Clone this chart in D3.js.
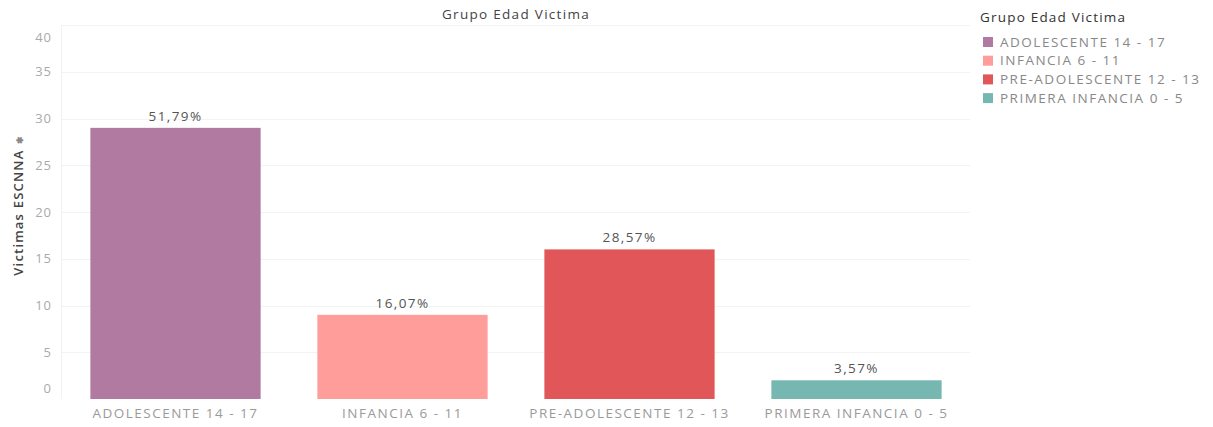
<!DOCTYPE html>
<html>
<head>
<meta charset="utf-8">
<script src="https://cdn.jsdelivr.net/npm/d3@7"></script>
<style>
  html, body { margin: 0; padding: 0; background: #fff; }
  svg { display: block; }
  text { font-family: "Open Sans", "Noto Sans", sans-serif; }
</style>
</head>
<body>
<svg id="chart" width="1213" height="427"></svg>
<script>
const categories = ["ADOLESCENTE 14 - 17", "INFANCIA 6 - 11", "PRE-ADOLESCENTE 12 - 13", "PRIMERA INFANCIA 0 - 5"];
const values = [29, 9, 16, 2];
const percentLabels = ["51,79%", "16,07%", "28,57%", "3,57%"];
const colors = ["#b07aa1", "#ff9d9a", "#e15759", "#76b7b2"];
const yTicks = [0, 5, 10, 15, 20, 25, 30, 35, 40];
const chartTitle = "Grupo Edad Victima";
const yTitle = "Victimas ESCNNA";

const svg = d3.select("#chart");

const x = d3.scaleBand().domain(categories).range([62, 970]).paddingInner(0.25).paddingOuter(0.125);
const y = d3.scaleLinear().domain([0, 40]).range([399, 25]);
const color = d3.scaleOrdinal().domain(categories).range(colors);

// gridlines
svg.append("g").selectAll("line").data(yTicks.filter(d => d > 0)).join("line")
  .attr("x1", 62).attr("x2", 970)
  .attr("y1", d => Math.round(y(d)) + 0.5).attr("y2", d => Math.round(y(d)) + 0.5)
  .attr("stroke", "#f3f3f3").attr("stroke-width", 1);

// y axis line (faint)
svg.append("line").attr("x1", 61.5).attr("x2", 61.5).attr("y1", 25).attr("y2", 399)
  .attr("stroke", "#f2f2f2");

// y tick labels
svg.append("g").selectAll("text").data(yTicks).join("text")
  .attr("x", 52)
  .attr("y", d => d === 0 ? y(d) - 11 : (d === 40 ? y(d) + 12 : y(d)))
  .attr("dy", "0.35em")
  .attr("text-anchor", "end")
  .attr("font-size", 13)
  .attr("letter-spacing", "1px")
  .attr("fill", "#aaaaaa")
  .text(d => d);

// y title
const yt = svg.append("text")
  .attr("transform", "translate(23,205) rotate(-90)")
  .attr("text-anchor", "middle")
  .attr("font-size", 13)
  .attr("font-weight", "600")
  .attr("letter-spacing", "1.2px")
  .attr("fill", "#444");
yt.append("tspan").text(yTitle);
yt.append("tspan").attr("dx", 6).attr("font-size", 9).attr("fill", "#888").text("✱");

// bars
svg.append("g").selectAll("rect").data(categories).join("rect")
  .attr("x", d => x(d))
  .attr("width", x.bandwidth())
  .attr("y", (d, i) => y(values[i]))
  .attr("height", (d, i) => y(0) - y(values[i]))
  .attr("fill", d => color(d));

// value labels
svg.append("g").selectAll("text").data(categories).join("text")
  .attr("x", d => x(d) + x.bandwidth() / 2)
  .attr("y", (d, i) => y(values[i]) - 7)
  .attr("text-anchor", "middle")
  .attr("font-size", 13.5)
  .attr("letter-spacing", "1.4px")
  .attr("fill", "#555")
  .text((d, i) => percentLabels[i]);

// x axis labels
svg.append("g").selectAll("text").data(categories).join("text")
  .attr("x", d => x(d) + x.bandwidth() / 2)
  .attr("y", 418)
  .attr("text-anchor", "middle")
  .attr("font-size", 13.5)
  .attr("letter-spacing", "1.5px")
  .attr("fill", "#9a9a9a")
  .text(d => d);

// chart title
svg.append("text")
  .attr("x", 516).attr("y", 19)
  .attr("text-anchor", "middle")
  .attr("font-size", 13.5)
  .attr("letter-spacing", "1.3px")
  .attr("fill", "#444")
  .text(chartTitle);

// legend
const lg = svg.append("g").attr("transform", "translate(978,0)");
lg.append("text").attr("x", 2).attr("y", 22).attr("font-size", 13.5).attr("letter-spacing", "1.2px").attr("fill", "#333").text(chartTitle);
const items = lg.selectAll("g.item").data(categories).join("g").attr("class", "item")
  .attr("transform", (d, i) => `translate(0,${42 + i * 18.7})`);
items.append("rect").attr("x", 5).attr("y", -5).attr("width", 10).attr("height", 10).attr("fill", d => color(d));
items.append("text").attr("x", 22).attr("y", 0).attr("dy", "0.35em").attr("font-size", 13.5).attr("letter-spacing", "1.5px").attr("fill", "#888").text(d => d);
</script>
</body>
</html>
